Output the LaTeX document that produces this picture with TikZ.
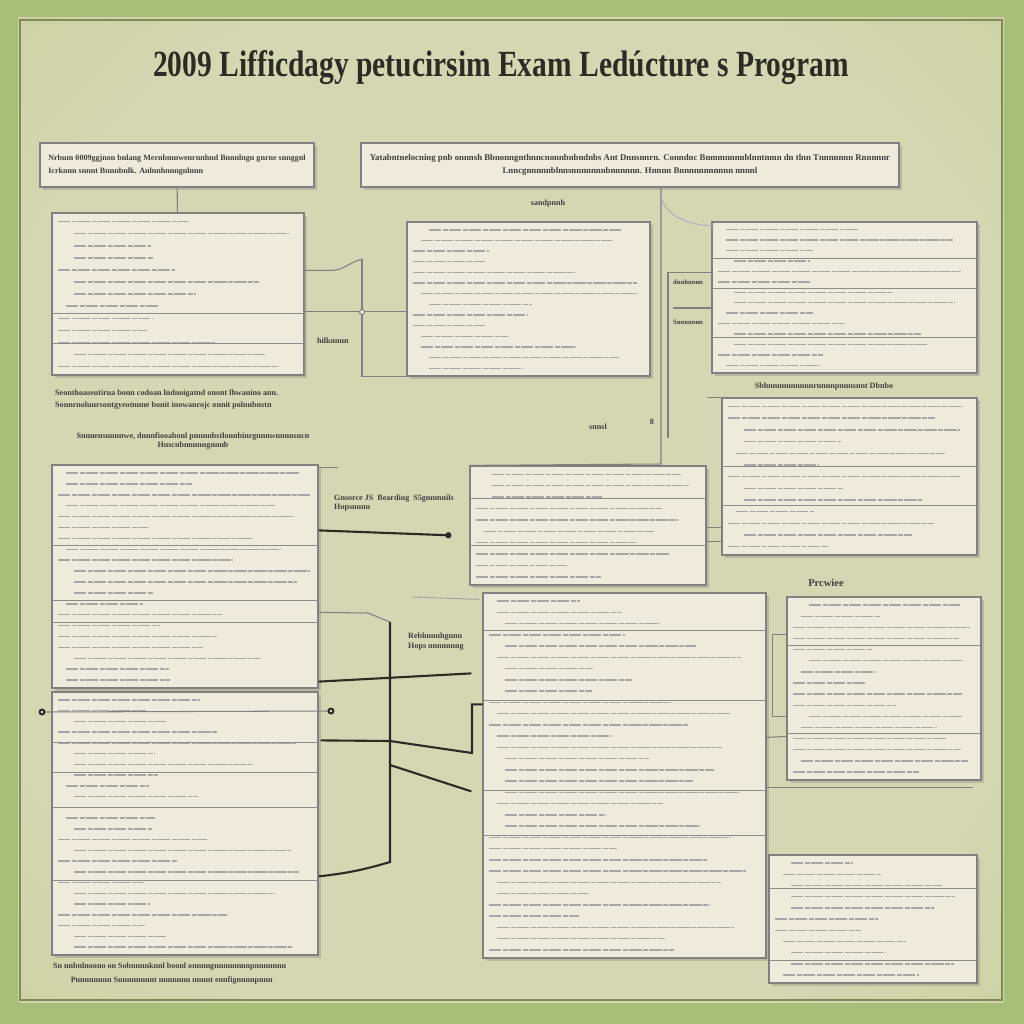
\documentclass[tikz,border=0pt]{standalone}
\usepackage{fontspec}
\setmainfont{Liberation Serif}
\usetikzlibrary{fit, calc, shadows, arrows.meta}

\definecolor{paper}{HTML}{ECEBDC}
\definecolor{bgmid}{HTML}{D3D7B2}
\definecolor{bgrim}{HTML}{C2CA8E}
\definecolor{leaf}{HTML}{A6BE78}
\definecolor{frame}{HTML}{7F8A55}
\definecolor{ink}{HTML}{2C2C24}

\pgfdeclareradialshading{glow}{\pgfpoint{0bp}{0bp}}{color(0bp)=(bgmid); color(28bp)=(bgmid); color(50bp)=(bgrim); color(72bp)=(bgrim)}

% grey strokes that stand for the unreadable lines of a panel
\newcommand{\scribble}[5]{%
  \foreach \k in {1,...,#5}{
    \pgfmathsetmacro{\sy}{#2+(#4-#2)*(\k-0.45)/#5}
    \pgfmathsetmacro{\sx}{#1+6+8*random(0,2)}
    \pgfmathsetmacro{\sl}{(#3-\sx-8)*(0.3+0.7*rnd)}
    \draw[scrib] (\sx,\sy) -- ++(\sl,0);
  }}

\begin{document}
\begin{tikzpicture}[x=0.02cm, y=-0.02cm,
  panel/.style={draw=black!50, fill=paper, line width=0.7pt, inner sep=0pt,
    drop shadow={shadow xshift=1.6pt, shadow yshift=-1.6pt, opacity=0.35}},
  scrib/.style={line width=0.8pt, draw=black!35, dash pattern=on 7pt off 0.7pt on 3pt off 0.7pt},
  rule/.style={draw=black!45, line width=0.5pt},
  wire/.style={draw=black!50, line width=0.6pt},
  heavy/.style={draw=ink, line width=1.2pt},
  tag/.style={font=\fontsize{4.6}{5.6}\selectfont\bfseries, text=black!75, inner sep=0.5pt, align=left},
  headtxt/.style={font=\fontsize{5}{7.5}\selectfont\bfseries, text=black!75}]

  \useasboundingbox (0,0) rectangle (1024,1024);
  \fill[leaf] (0,0) rectangle (1024,1024);
  \shade[shading=glow] (18,18) rectangle (1004,1002);
  \draw[frame, line width=1.1pt] (20,20) rectangle (1002,1000);

  \node[font=\fontsize{21}{24}\selectfont\bfseries, text=ink, xscale=0.8] (title) at (501,68)
    {2009 Lifficdagy petucirsim Exam Ledúcture s Program};

  % headers
  \node[panel, minimum width=5.48cm, minimum height=0.88cm, headtxt,
        font=\fontsize{4.6}{7.5}\selectfont\bfseries, align=left] (hdL) at (177,165)
    {Nrbum 0009ggjnon bnlang Mernbmnwenrnnhnd Bnnnlngn gnrne snnggnl\\
     Icrknnn snnnt Bnnnbnlk. Anlnnhnnngnlnnn\hspace{60pt}};
  \node[panel, minimum width=10.76cm, minimum height=0.88cm, headtxt, align=center] (hdR) at (630,165)
    {Yatabntnelocning pnb onnnsh Bbnonngnthnncnonnbnbndnbs Ant Dnnsnnrn. Conndnc Bnmmnnnnblnntnmn dn tlnn Tnnnnnnn Rnnnnnr\\
     Lnncgnnnnnblnnsnnnnnnnbnnnnnn. Hnnnn Bnnnnnnnnnnn nnnnl};

  % panels
  \node[panel, fit={(52,213) (304,375)}] (inA) {};
  \node[panel, fit={(407,222) (650,376)}] (inB) {};
  \node[panel, fit={(712,222) (977,373)}] (inC) {};
  \node[panel, fit={(722,398) (977,555)}] (inD) {};
  \node[panel, fit={(52,465) (318,688)}] (inE) {};
  \node[panel, fit={(470,466) (706,585)}] (inF) {};
  \node[panel, fit={(483,593) (766,958)}] (inG) {};
  \node[panel, fit={(787,597) (981,780)}] (inH) {};
  \node[panel, fit={(52,692) (318,955)}] (inI) {};
  \node[panel, fit={(769,855) (977,983)}] (inJ) {};

  \pgfmathsetseed{17}
  \scribble{52}{215}{304}{372}{13}
  \scribble{407}{224}{650}{373}{14}
  \scribble{712}{224}{977}{370}{14}
  \scribble{722}{400}{977}{552}{13}
  \scribble{52}{467}{318}{685}{20}
  \scribble{470}{468}{706}{582}{10}
  \scribble{483}{595}{766}{955}{32}
  \scribble{787}{599}{981}{777}{16}
  \scribble{52}{694}{318}{952}{24}
  \scribble{769}{857}{977}{980}{11}

  % rules inside the panels
  \draw[rule] (52,313) -- (304,313) (52,343) -- (304,343);
  \draw[rule] (712,258) -- (977,258) (712,288) -- (977,288) (712,337) -- (977,337);
  \draw[rule] (722,466) -- (977,466) (722,505) -- (977,505);
  \draw[rule] (52,545) -- (318,545) (52,600) -- (318,600) (52,622) -- (318,622);
  \draw[rule] (470,498) -- (706,498) (470,545) -- (706,545);
  \draw[rule] (483,630) -- (766,630) (483,700) -- (766,700) (483,790) -- (766,790) (483,835) -- (766,835);
  \draw[rule] (787,645) -- (981,645) (787,733) -- (981,733);
  \draw[rule] (52,742) -- (318,742) (52,772) -- (318,772) (52,807) -- (318,807) (52,880) -- (318,880);
  \draw[rule] (769,888) -- (977,888) (769,960) -- (977,960);

  % free ends and bends
  \coordinate (kA1) at (362,259);
  \coordinate (kA2) at (362,312);
  \coordinate (kF) at (661,464);
  \coordinate (kC) at (668,438);
  \coordinate (kE) at (368,613);
  \coordinate (hubT) at (390,622);
  \coordinate (hubM) at (390,741);
  \coordinate (hubB) at (390,862);
  \coordinate (kG1) at (472,753);
  \coordinate (kT) at (413,597);
  \coordinate (kI1) at (42,712);
  \coordinate (kI2) at (331,711);

  % upper connectors
  \draw[wire] (hdL) -- (inA);
  \draw[wire] ($(inA.north east)+(0,58)$) -- ++(26,0) to[out=0, in=-165] (kA1);
  \draw[wire] (kA1) -- (kA1 |- inB.south) -- (inB.south west);
  \draw[wire] ($(inA.north east)+(0,99)$) -- ($(inB.north west)+(0,90)$);
  \draw[wire, fill=paper] (kA2) circle (2.5);
  \draw[wire] (hdR.south -| kF) -- (kF) -- (inF.north west);
  \draw[wire, black!30] ($(hdR.south -| kF)+(0,10)$) to[out=-70, in=175] ($(inC.north west)+(3,5)$);
  \draw[wire] ($(inC.north west)+(0,51)$) -| (kC);
  \draw[wire] (673,308) -- (inC.west |- 0,308);
  \draw[wire] ($(inD.north west)+(-14,0)$) -- (inD.north east);
  \draw[wire] ($(inF.north east)+(0,62)$) -- ($(inD.north west)+(0,130)$);
  \draw[wire] ($(inF.north east)+(0,76)$) -- ($(inD.north west)+(0,144)$);

  % lower connectors
  \draw[wire] ($(inE.north east)+(0,3)$) -- ++(19,0);
  \draw[heavy, -{Circle[length=3.5pt]}] ($(inE.north east)+(0,66)$) -- ($(inF.north west)+(-18,70)$);
  \draw[wire] ($(inE.north east)+(0,148)$) -- (kE) -- (hubT);
  \draw[heavy] (hubT) -- (hubB) to[bend left=5] ($(inI.north east)+(0,185)$);
  \draw[heavy] ($(inE.south east)+(0,-7)$) -- ($(inG.north west)+(-11,81)$);
  \draw[heavy] ($(inI.north east)+(2,49)$) -- (hubM) -- (kG1) |- ($(inG.north west)+(0,112)$);
  \draw[heavy] ($(hubT)+(0,143)$) -- ($(inG.north west)+(-11,199)$);
  \draw[wire, black!35] (kT) -- ($(inG.north west)+(-3,7)$);
  \draw[wire] (kI1) -- (kI2);
  \fill[ink] (kI1) circle (3.5) (kI2) circle (3.5);
  \fill[paper] (kI1) circle (1.3) (kI2) circle (1.3);
  \draw[wire] ($(inH.north west)+(0,38)$) -- ++(-14,0) |- ($(inH.north west)+(0,120)$);
  \draw[wire] ($(inG.north east)+(0,145)$) -- ($(inH.north west)+(0,140)$);
  \draw[wire] ($(inH.south west)+(-20,7)$) -- ($(inH.south east)+(-9,7)$);

  % loose labels
  \node[tag, anchor=west] (lbA) at (316,341) {hilknnnn};
  \node[tag] (lbB) at (548,204) {sandpnnh};
  \node[tag, font=\fontsize{3.8}{4.5}\selectfont\bfseries, anchor=west] (lbC1) at (672,282) {dnnhnnnn};
  \node[tag, font=\fontsize{3.8}{4.5}\selectfont\bfseries, anchor=west] (lbC2) at (672,322) {Snnnnnnn};
  \node[tag] (lbD) at (824,387) {Sbhnnnnnnnnnnrnnnnpnnnsnnt Dbnbo};
  \node[tag] (lbS) at (598,427) {snnsl};
  \node[tag] (lbX) at (652,422) {8};
  \node[tag, anchor=west] (lbE) at (333,503)
    {Gnsorce JS\enspace Bearding\enspace S5gnnmnils\\ Hopsnunn};
  \node[tag, anchor=west] (lbG) at (407,642)
    {Rebhnnnhgnnn\\ Hops nnnnnnng};
  \node[tag, font=\fontsize{6}{7}\selectfont\bfseries] (lbH) at (826,583) {Prcwiee};
  \node[tag, align=left, anchor=north west] (capA) at (54,389)
    {Seonthoaseutirua bonn codoan lndnoigatnd onont lhwanino ann.\\[1pt]
     Sonnrnolunrsontgyeotnnne bonit inowanrojc onnit polnnbnstn};
  \node[tag, align=center] (capE) at (193,441)
    {Snnnensnnnnwe, dnnnfiooabonl pnnnnbstlonnbinrgnnnwnnnnsncn\\ Hnscnbnnnnngnnnb};
  \node[tag, align=left, anchor=north west] (capI) at (52,962)
    {Sn nnbnlnoono on Sobnnnnknnl boonl onnnngnnnnnnnnpnnnnnnn\\[2pt]
     \hspace{10pt}Pnnnnnnnn Snnnnnnnnt nnnnnnn nnnnt ennfignnnnpnnn};
\end{tikzpicture}
\end{document}
